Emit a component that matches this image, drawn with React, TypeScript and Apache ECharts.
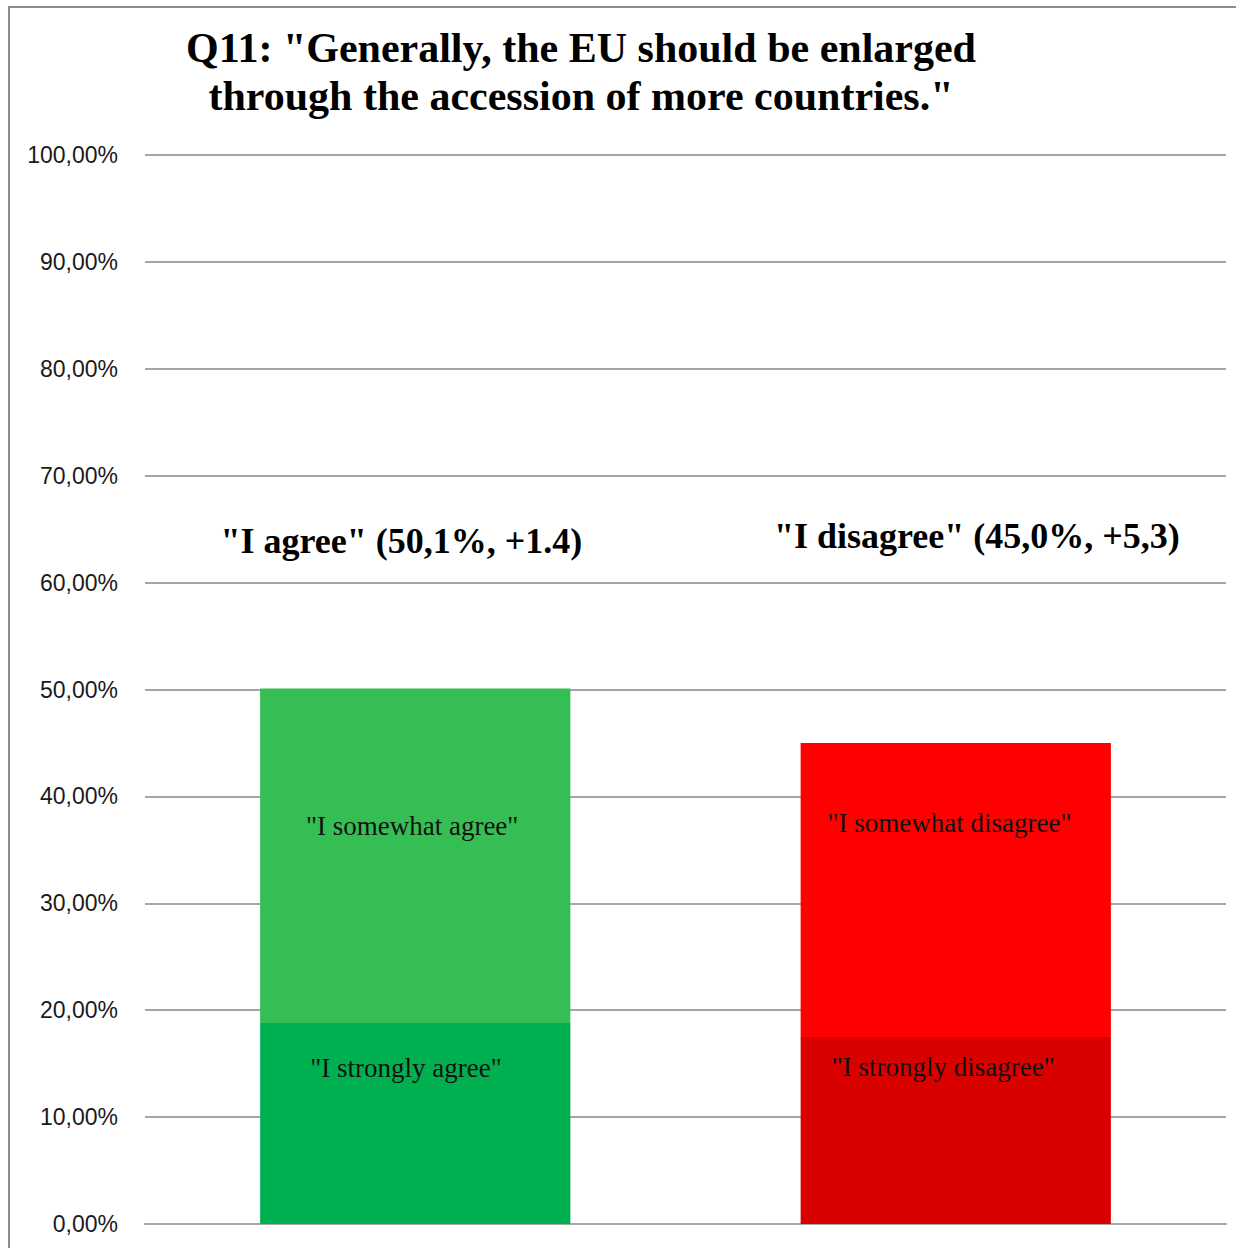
import React, { useEffect, useRef } from "react";
import * as echarts from "echarts";

const categories = ["I agree", "I disagree"];
const stronglyValues = [18.8, 17.5];
const somewhatValues = [31.3, 27.5];
const headerLabels = ['"I agree" (50,1%, +1.4)', '"I disagree" (45,0%, +5,3)'];
const stronglyLabels = ['"I strongly agree"', '"I strongly disagree"'];
const somewhatLabels = ['"I somewhat agree"', '"I somewhat disagree"'];
const stronglyColors = ["#00B050", "#D90000"];
const somewhatColors = ["#35BE53", "#FF0000"];

// label placement (style) relative to each bar segment
const stronglyLabelPos = [["47%", 45], ["46%", 30]];
const somewhatLabelPos = [["49%", 138], ["48%", 80]];
const headerLabelPos = [["45.5%", -147], ["56.8%", -207]];

const SERIF = "'Liberation Serif', 'Times New Roman', serif";

export default function App() {
  const ref = useRef<HTMLDivElement>(null);
  useEffect(() => {
    if (!ref.current) return;
    const chart = echarts.init(ref.current, null, { renderer: "svg" });
    const innerLabel = (pos: any) => ({
      show: true,
      position: pos,
      align: "center",
      verticalAlign: "middle",
      fontFamily: SERIF,
      fontSize: 27,
      color: "#111",
    });
    chart.setOption({
      animation: false,
      title: {
        text: 'Q11: "Generally, the EU should be enlarged\nthrough the accession of more countries."',
        left: 576,
        top: 19,
        textAlign: "center",
        textStyle: {
          fontFamily: SERIF,
          fontWeight: "bold",
          fontSize: 42,
          lineHeight: 48,
          color: "#000",
        },
      },
      graphic: [
        {
          type: "rect",
          shape: { x: 9, y: 7, width: 1400, height: 1400 },
          style: { fill: "none", stroke: "#8C8C8C", lineWidth: 2 },
          silent: true,
        },
      ],
      grid: { left: 145, right: 10, top: 155, bottom: 24 },
      xAxis: {
        type: "category",
        data: categories,
        axisLabel: { show: false },
        axisTick: { show: false },
        axisLine: { show: true, lineStyle: { color: "#A6A6A6", width: 2 } },
      },
      yAxis: {
        type: "value",
        min: 0,
        max: 100,
        interval: 10,
        axisLine: { show: false },
        axisTick: { show: false },
        splitLine: { lineStyle: { color: "#A6A6A6", width: 2 } },
        axisLabel: {
          margin: 27,
          fontFamily: "'Liberation Sans', Arial, sans-serif",
          fontSize: 23,
          color: "#1a1a1a",
          formatter: (v: number) => v.toFixed(2).replace(".", ",") + "%",
        },
      },
      series: [
        {
          name: "strongly",
          type: "bar",
          stack: "total",
          barWidth: "57.4%",
          data: stronglyValues.map((v, i) => ({
            value: v,
            itemStyle: { color: stronglyColors[i] },
            label: { ...innerLabel(stronglyLabelPos[i]), formatter: stronglyLabels[i] },
          })),
        },
        {
          name: "somewhat",
          type: "bar",
          stack: "total",
          data: somewhatValues.map((v, i) => ({
            value: v,
            itemStyle: { color: somewhatColors[i] },
            label: { ...innerLabel(somewhatLabelPos[i]), formatter: somewhatLabels[i] },
          })),
        },
        {
          name: "header",
          type: "bar",
          stack: "total",
          silent: true,
          data: headerLabels.map((t, i) => ({
            value: 0,
            itemStyle: { color: "transparent" },
            label: {
              show: true,
              position: headerLabelPos[i],
              align: "center",
              verticalAlign: "middle",
              fontFamily: SERIF,
              fontWeight: "bold",
              fontSize: 36,
              color: "#000",
              formatter: t,
            },
          })),
        },
      ],
    });
    return () => chart.dispose();
  }, []);
  return (
    <div
      ref={ref}
      style={{ position: "absolute", left: 0, top: 0, width: 1236, height: 1248, background: "#fff" }}
    />
  );
}
